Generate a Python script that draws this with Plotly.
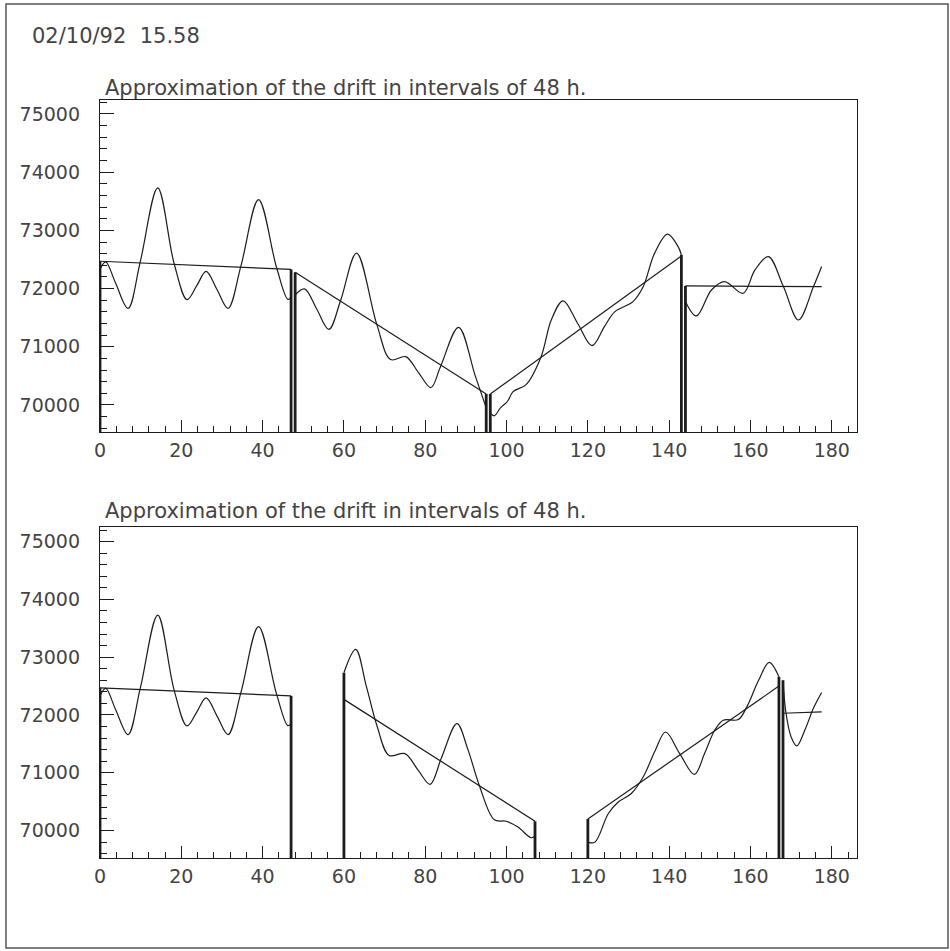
import plotly.graph_objects as go

# ---------------- data (hours, counts) ----------------
# interval 0-47 h (identical in both panels)
c1_x = [0, 1.4, 3.8, 6.9, 9.9, 14.2, 18.2, 21.4, 23.8, 26.1, 28.8, 31.5, 34.7, 39.0, 43.4, 46.2, 47]
c1_y = [72330, 72460, 72100, 71660, 72460, 73730, 72440, 71810, 72050, 72295, 71980, 71660, 72400, 73530, 72370, 71815, 71850]
l1_x = [0, 47]
l1_y = [72470, 72330]

# upper panel: contiguous 48 h intervals
t2_x = [48, 50.3, 53.3, 56.3, 59.2, 63.1, 68.1, 71.5, 75.2, 78.3, 81.4, 83.7, 88.2, 92.3, 95]
t2_y = [71890, 71995, 71650, 71300, 71800, 72610, 71380, 70780, 70830, 70560, 70300, 70650, 71335, 70500, 69950]
tl2_x = [48, 95]
tl2_y = [72280, 70190]

t3_x = [96, 97.0, 98.5, 100.2, 101.6, 104.8, 108.5, 111, 113.9, 117.5, 121, 124.1, 126.6, 131.1, 133.6, 136.4, 139.6, 142.2, 143]
t3_y = [69860, 69815, 69950, 70060, 70230, 70350, 70830, 71460, 71790, 71400, 71020, 71350, 71600, 71775, 72030, 72605, 72935, 72720, 72580]
tl3_x = [96, 143]
tl3_y = [70190, 72560]

t4_x = [144, 146.7, 150.4, 153.6, 158.2, 161.1, 164.4, 168.1, 171.8, 175.5, 177.5]
t4_y = [71780, 71530, 71976, 72120, 71920, 72320, 72550, 72035, 71460, 72035, 72380]
tl4_x = [144, 177.5]
tl4_y = [72045, 72035]

# lower panel: intervals with gaps
b2_x = [60, 62.9, 65.5, 68.2, 71.1, 75.0, 78.2, 81.2, 84.0, 87.8, 90.5, 93.3, 97.0, 99.9, 102.8, 106.0, 107]
b2_y = [72730, 73135, 72500, 71795, 71300, 71330, 71050, 70800, 71260, 71850, 71400, 70780, 70185, 70160, 70060, 69875, 69900]
bl2_x = [60, 107]
bl2_y = [72270, 70160]

b3_x = [120, 121.7, 125, 127.4, 130.7, 133.6, 136.6, 139.1, 142.6, 146.2, 148.8, 151.2, 153.3, 157, 159.1, 162, 164.6, 167]
b3_y = [69800, 69795, 70290, 70490, 70640, 70925, 71390, 71705, 71330, 70970, 71350, 71735, 71910, 71920, 72140, 72600, 72910, 72660]
bl3_x = [120, 167]
bl3_y = [70200, 72500]

b4_x = [168, 168.7, 170, 171.4, 173.5, 175.5, 177.5]
b4_y = [72600, 72050, 71620, 71465, 71760, 72120, 72390]
bl4_x = [168, 177.5]
bl4_y = [72030, 72055]

x_range = [0, 186.2]
top_y_range = [69536, 75240]
bot_y_range = [69524, 75254]

title_text = "Approximation of the drift in intervals of 48 h."
stamp_text = "02/10/92\u00a0\u00a015.58"

panels = [
    dict(curves=[(c1_x, c1_y), (t2_x, t2_y), (t3_x, t3_y), (t4_x, t4_y)],
         lines=[(l1_x, l1_y), (tl2_x, tl2_y), (tl3_x, tl3_y), (tl4_x, tl4_y)],
         yr=top_y_range),
    dict(curves=[(c1_x, c1_y), (b2_x, b2_y), (b3_x, b3_y), (b4_x, b4_y)],
         lines=[(l1_x, l1_y), (bl2_x, bl2_y), (bl3_x, bl3_y), (bl4_x, bl4_y)],
         yr=bot_y_range),
]

# ---------------- figure ----------------
INK = "#1c1c1c"
TXT = "#444444"
FONT = "DejaVu Sans"

fig = go.Figure()
for p, panel in enumerate(panels):
    xa = "x" if p == 0 else "x2"
    ya = "y" if p == 0 else "y2"
    base = panel["yr"][0]
    ex, ey = [], []
    n = len(panel["curves"])
    for i, ((cx, cy), (lx, ly)) in enumerate(zip(panel["curves"], panel["lines"])):
        fig.add_trace(go.Scatter(x=cx, y=cy, mode="lines", xaxis=xa, yaxis=ya,
                                 line=dict(color=INK, width=1.2, shape="spline", smoothing=1.0),
                                 hoverinfo="skip", showlegend=False))
        fig.add_trace(go.Scatter(x=lx, y=ly, mode="lines", xaxis=xa, yaxis=ya,
                                 line=dict(color=INK, width=1.2),
                                 hoverinfo="skip", showlegend=False))
        # closing edges of each interval, dropped to the axis
        ex += [cx[0], cx[0], None]
        ey += [base, max(cy[0], ly[0]), None]
        if i < n - 1:
            ex += [cx[-1], cx[-1], None]
            ey += [base, max(cy[-1], ly[-1]), None]
    fig.add_trace(go.Scatter(x=ex, y=ey, mode="lines", xaxis=xa, yaxis=ya,
                             line=dict(color=INK, width=2.8),
                             hoverinfo="skip", showlegend=False))

W, H = 950, 951
ML, MR, MT, MB = 100, 93, 100, 93
PW, PH = W - ML - MR, H - MT - MB


def py(y_px):
    return (H - MB - y_px) / PH


def px(x_px):
    return (x_px - ML) / PW


axis_common = dict(showline=True, mirror=True, linecolor=INK, linewidth=1.3,
                   showgrid=False, zeroline=False, ticks="inside",
                   tickcolor=INK, tickwidth=1, color=TXT, tickformat="d",
                   tickfont=dict(family=FONT, size=19, color=TXT))

xa_cfg = dict(axis_common, range=x_range, dtick=20, tick0=0, ticklen=12,
              ticklabelstandoff=1,
              minor=dict(ticks="inside", dtick=4, tick0=0, ticklen=6, tickcolor=INK, tickwidth=1))
ya_base = dict(axis_common, dtick=1000, tick0=0, ticklen=14, ticklabelstandoff=15,
               minor=dict(ticks="inside", dtick=200, tick0=0, ticklen=7, tickcolor=INK, tickwidth=1))

fig.update_layout(
    width=W, height=H,
    margin=dict(l=ML, r=MR, t=MT, b=MB),
    paper_bgcolor="white", plot_bgcolor="white",
    showlegend=False,
    xaxis=dict(xa_cfg, domain=[0, 1], anchor="y"),
    yaxis=dict(ya_base, range=top_y_range, domain=[py(432), 1], anchor="x"),
    xaxis2=dict(xa_cfg, domain=[0, 1], anchor="y2"),
    yaxis2=dict(ya_base, range=bot_y_range, domain=[0, py(527)], anchor="x2"),
    annotations=[
        dict(text=stamp_text, xref="paper", yref="paper", x=px(30), y=py(36),
             xanchor="left", yanchor="middle", showarrow=False,
             font=dict(family=FONT, size=21, color=TXT)),
        dict(text=title_text, xref="paper", yref="paper", x=px(103), y=py(88),
             xanchor="left", yanchor="middle", showarrow=False,
             font=dict(family=FONT, size=21, color=TXT)),
        dict(text=title_text, xref="paper", yref="paper", x=px(103), y=py(511),
             xanchor="left", yanchor="middle", showarrow=False,
             font=dict(family=FONT, size=21, color=TXT)),
    ],
    shapes=[
        dict(type="rect", xref="paper", yref="paper",
             x0=px(6), x1=px(948), y0=py(948), y1=py(4),
             line=dict(color="#555555", width=1.5), fillcolor="rgba(0,0,0,0)", layer="below"),
    ],
)

fig.write_html("out.html")
